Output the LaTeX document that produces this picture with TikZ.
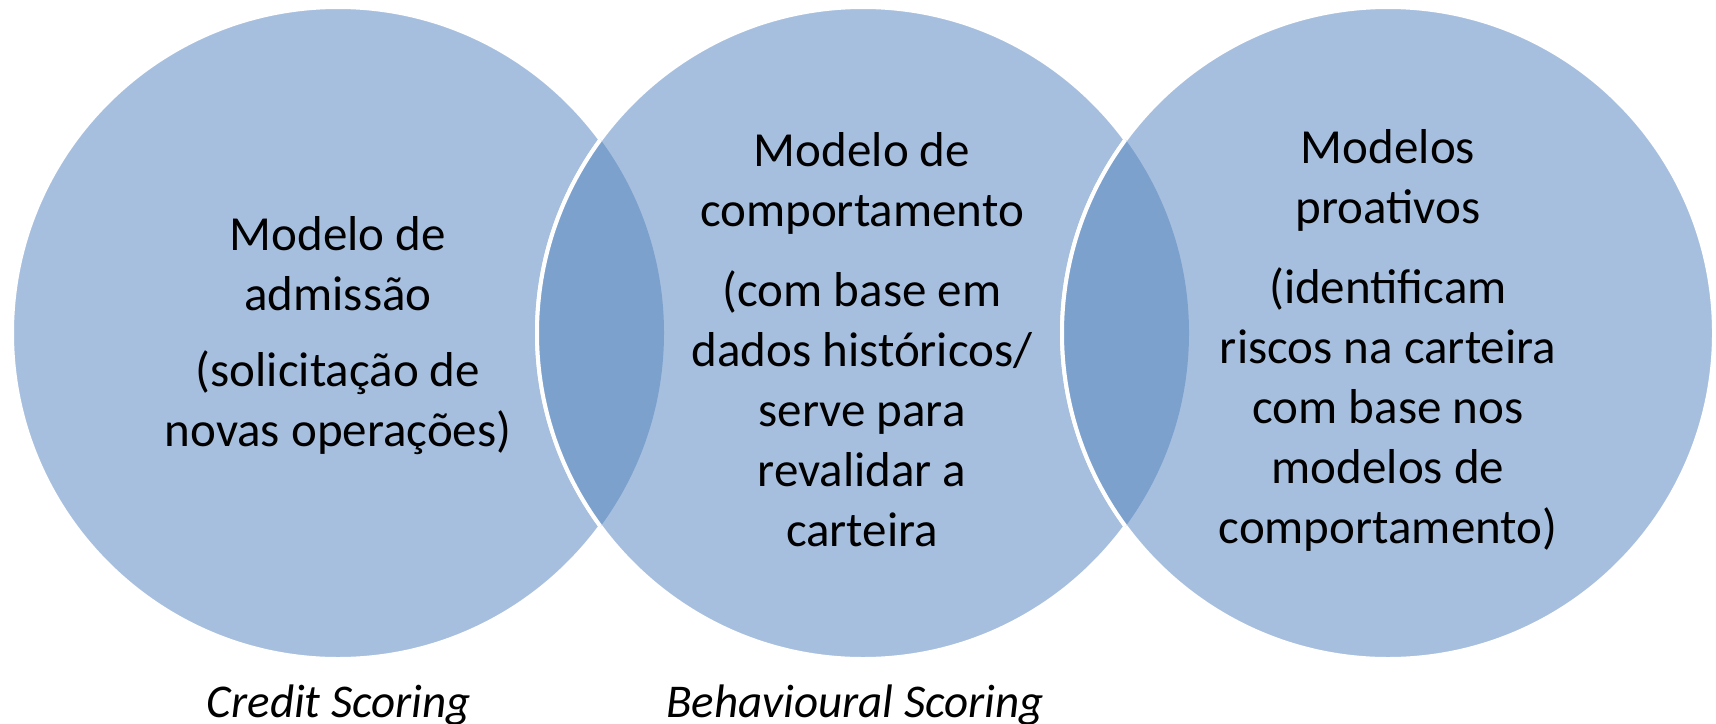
\documentclass[tikz,border=0pt]{standalone}
\usepackage{fontspec}
\setmainfont{Carlito}
\definecolor{lightblue}{RGB}{167,191,222}
\definecolor{darkblue}{RGB}{124,161,205}
\begin{document}
\begin{tikzpicture}[x=0.5pt,y=-0.5pt,
  circ/.style={circle,fill=lightblue,draw=white,line width=2pt,minimum size=326pt,inner sep=0pt},
  rim/.style={draw=white,line width=2pt},
  body/.style={align=center,font=\fontsize{24.5}{30}\selectfont,text=black,inner sep=0pt},
  caption/.style={font=\fontsize{23.5}{28}\selectfont\itshape,text=black,inner sep=0pt}]
\useasboundingbox (0,0) rectangle (1716,723);
\node[circ] (c1) at (338,333) {};
\node[circ] (c2) at (863,333) {};
\node[circ] (c3) at (1388,333) {};
\begin{scope}
  \clip (c1.center) circle[radius=163pt];
  \fill[darkblue] (c2.center) circle[radius=163pt];
  \path[rim] (c2.center) circle[radius=163pt];
\end{scope}
\begin{scope}
  \clip (c2.center) circle[radius=163pt];
  \fill[darkblue] (c3.center) circle[radius=163pt];
  \path[rim] (c3.center) circle[radius=163pt];
\end{scope}
\node[body] (t1) at (338,336) {Modelo de\\admissão\\[8pt](solicitação de\\novas operações)};
\node[body] (t2) at (862,340) {Modelo de\\comportamento\\[10pt](com base em\\dados históricos/\\serve para\\revalidar a\\carteira};
\node[body] (t3) at (1388,340) {Modelos\\proativos\\[10pt](identificam\\riscos na carteira\\com base nos\\modelos de\\comportamento)};
\node[caption] (l1) at (339,705) {Credit Scoring};
\node[caption] (l2) at (855,705) {Behavioural Scoring};
\end{tikzpicture}
\end{document}
